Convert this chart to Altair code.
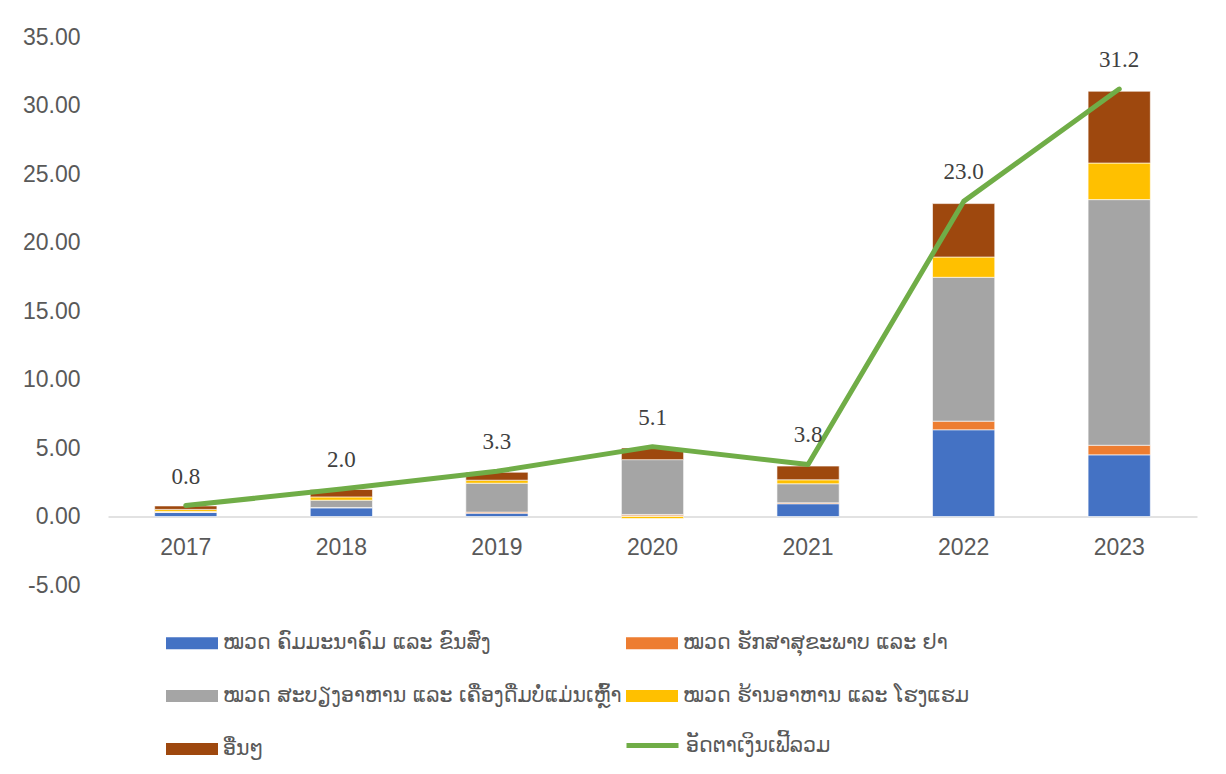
import altair as alt
import pandas as pd

years = ["2017", "2018", "2019", "2020", "2021", "2022", "2023"]
cat_names = [
    "ໝວດ ຄົມມະນາຄົມ ແລະ ຂົນສົ່ງ",
    "ໝວດ ຮັກສາສຸຂະພາບ ແລະ ຢາ",
    "ໝວດ ສະບຽງອາຫານ ແລະ ເຄື່ອງດື່ມບໍ່ແມ່ນເຫຼົ້າ",
    "ໝວດ ຮ້ານອາຫານ ແລະ ໂຮງແຮມ",
    "ອື່ນໆ",
]
transport = [0.30, 0.63, 0.24, 0.05, 0.93, 6.33, 4.50]
health = [0.02, 0.03, 0.08, 0.10, 0.07, 0.63, 0.70]
food = [0.05, 0.53, 2.11, 4.00, 1.39, 10.50, 17.93]
restaurant = [0.15, 0.24, 0.22, -0.15, 0.29, 1.48, 2.67]
others = [0.25, 0.54, 0.58, 0.85, 1.00, 3.90, 5.24]
line_name = "ອັດຕາເງິນເຟີ້ລວມ"
inflation = [0.8, 2.0, 3.3, 5.1, 3.8, 23.0, 31.2]
bar_colors = ["#4472C4", "#ED7D31", "#A5A5A5", "#FFC000", "#9E480E"]
line_color = "#70AD47"

series = [transport, health, food, restaurant, others]
rows = []
for k, (name, vals) in enumerate(zip(cat_names, series)):
    for y, v in zip(years, vals):
        rows.append({"year": y, "cat": name, "value": v, "ord": k})
bars_df = pd.DataFrame(rows)
line_df = pd.DataFrame({"year": years, "value": inflation, "series": [line_name] * len(years)})

W, H = 1089, 548
ymin, ymax = -5, 35
LEG_FONT = 20.5


def build(bold_others):
    x_enc = alt.X(
        "year:N",
        scale=alt.Scale(paddingInner=0.6, paddingOuter=0.3),
        axis=alt.Axis(
            title=None, labelAngle=0, offset=-H * (0 - ymin) / (ymax - ymin),
            domainColor="#d9d9d9", domainWidth=1.5, ticks=False,
            labelFontSize=23, labelColor="#595959", labelFont="Liberation Sans",
            labelPadding=20,
        ),
    )
    y_scale = alt.Scale(domain=[ymin, ymax], nice=False, zero=False)
    y_axis = alt.Axis(
        title=None, values=list(range(ymin, ymax + 1, 5)), grid=False, domain=False,
        ticks=False, labelFontSize=23, labelColor="#595959", labelFont="Liberation Sans",
        labelPadding=28, labelExpr="replace(format(datum.value, '.2f'), '\u2212', '-')",
    )
    leg_kwargs = dict(
        title=None, orient="none", legendX=58, legendY=580, columns=2,
        direction="horizontal",
        symbolType="M-1,-0.23H1V0.23H-1Z", symbolSize=2704, symbolStrokeWidth=0,
        labelFontSize=LEG_FONT, labelColor="#595959", labelFont="DejaVu Sans",
        labelLimit=600, rowPadding=16, columnPadding=4, padding=0,
        symbolOffset=0, labelOffset=5,
    )
    if bold_others:
        leg_kwargs["encode"] = {
            "labels": {"update": {"fontWeight": {
                "signal": "datum.value === '%s' ? 'bold' : 'normal'" % cat_names[-1]}}}
        }
    bars = alt.Chart(bars_df).mark_bar(stroke="white", strokeWidth=0.6).encode(
        x=x_enc,
        y=alt.Y("value:Q", stack="zero", scale=y_scale, axis=y_axis),
        color=alt.Color(
            "cat:N",
            scale=alt.Scale(domain=cat_names, range=bar_colors),
            legend=alt.Legend(**leg_kwargs),
        ),
        order=alt.Order("ord:Q", sort="ascending"),
    )

    line = alt.Chart(line_df).mark_line(
        strokeWidth=5, strokeCap="round", strokeJoin="round"
    ).encode(
        x=x_enc,
        y=alt.Y("value:Q", scale=y_scale, axis=y_axis),
        stroke=alt.Stroke(
            "series:N",
            scale=alt.Scale(domain=[line_name], range=[line_color]),
            legend=alt.Legend(
                title=None, orient="none", legendX=516, legendY=680,
                symbolType="stroke", symbolSize=2704, symbolStrokeWidth=5,
                labelFontSize=LEG_FONT, labelColor="#595959", labelFont="DejaVu Sans",
                padding=0, labelOffset=5,
            ),
        ),
    )

    labels = alt.Chart(line_df).mark_text(
        dy=-29, font="Liberation Serif", fontSize=23, color="#404040"
    ).encode(
        x=x_enc,
        y=alt.Y("value:Q", scale=y_scale, axis=y_axis),
        text=alt.Text("value:Q", format=".1f"),
    )

    return alt.layer(bars, line, labels).resolve_scale(color="independent").properties(
        width=W, height=H,
        autosize=alt.AutoSizeParams(type="none"),
        padding={"left": 100, "top": 29, "right": 20, "bottom": 175},
    ).configure_view(stroke=None)


try:
    chart = build(True)
    chart.to_dict()
except Exception:
    chart = build(False)

chart.save("out.html", embed_options={"renderer": "svg", "actions": False})
